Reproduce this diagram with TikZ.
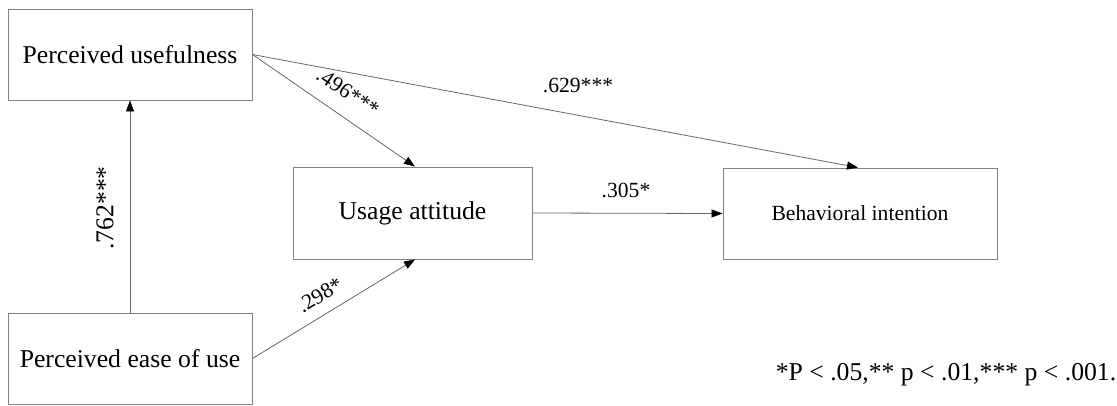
\documentclass[tikz,border=0pt]{standalone}
\usepackage{fontspec}
\setmainfont{Liberation Serif}
\usetikzlibrary{arrows.meta}
\tikzset{
  box/.style={draw=black!50, line width=0.9pt, rectangle, inner sep=0pt, align=center},
  big/.style={font=\fontsize{25.7}{30}\selectfont},
  small/.style={font=\fontsize{21.6}{26}\selectfont},
  conn/.style={draw=black!60, line width=0.8pt, -{Triangle[length=11pt,width=8pt,fill=black,color=black]}},
  lbl/.style={inner sep=0pt}
}
\begin{document}
\begin{tikzpicture}[x=1pt,y=-1pt]
\useasboundingbox (0,0) rectangle (1117,406);
\node[box,big,minimum width=244pt,minimum height=91pt] (PU) at (130,54.5) {Perceived usefulness};
\node[box,big,minimum width=244pt,minimum height=91pt] (PEOU) at (130,358.5) {Perceived ease of use};
\node[box,big,minimum width=239pt,minimum height=92pt] (UA) at (412.5,213) {Usage attitude};
\node[box,small,minimum width=274pt,minimum height=91pt] (BI) at (860,213.5) {Behavioral intention};

\coordinate (UAn) at ([xshift=2.5pt]UA.north);
\coordinate (UAs) at ([xshift=2.5pt]UA.south);
\coordinate (BIn) at ([xshift=-2pt]BI.north);

\draw[conn] (PEOU.north) -- (PU.south);
\draw[conn] (PU.east) -- (UAn);
\draw[conn] (PU.east) -- (BIn);
\draw[conn] (PEOU.east) -- (UAs);
\draw[conn] (UA.east) -- (BI.west);

\node[lbl,big,rotate=90] (l762) at (105,208) {.762***};
\node[lbl,small,rotate=-34] (l496) at (348,92) {.496***};
\node[lbl,small,rotate=31] (l298) at (320,295) {.298*};
\node[lbl,small] (l629) at (578,86) {.629***};
\node[lbl,small] (l305) at (626,190) {.305*};
\node[lbl,big] (note) at (946,375) {*P < .05,** p < .01,*** p < .001.};
\end{tikzpicture}
\end{document}
